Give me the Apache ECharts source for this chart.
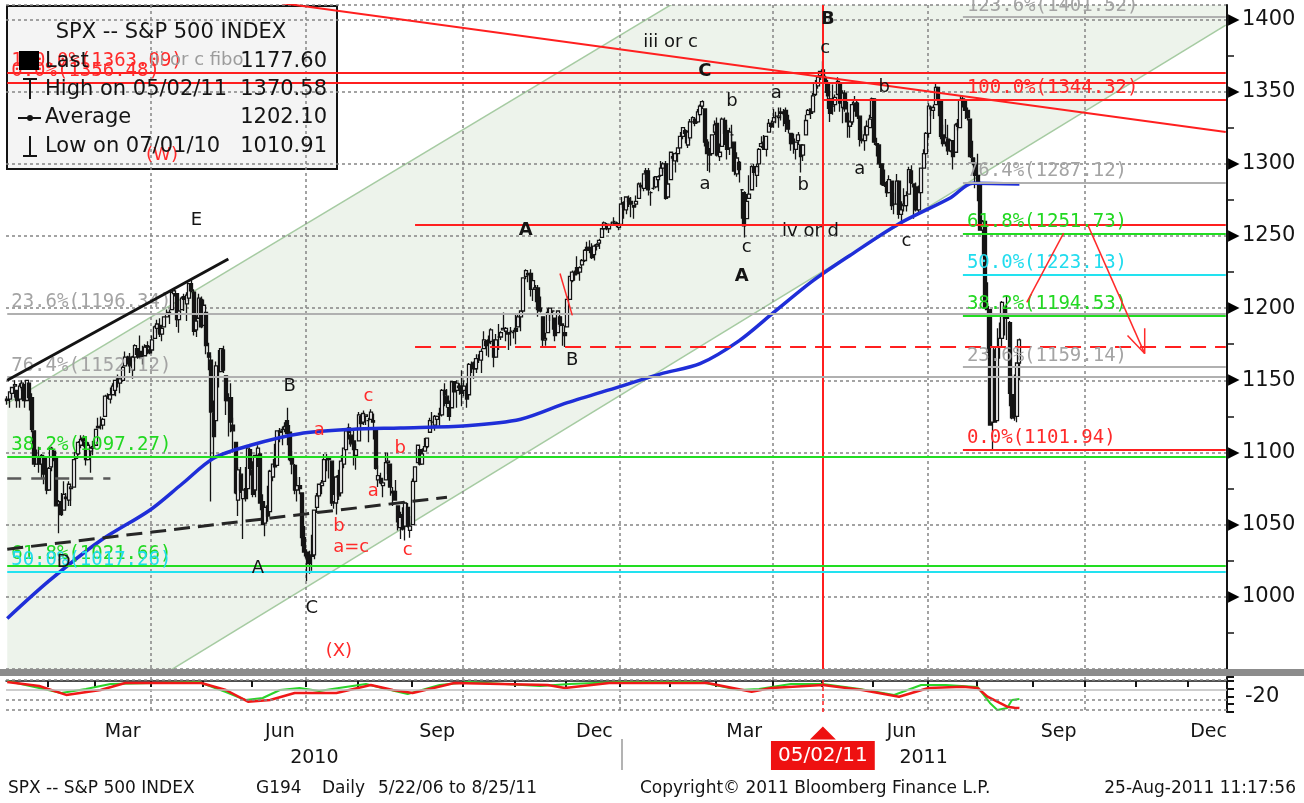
<!DOCTYPE html>
<html>
<head>
<meta charset="utf-8">
<title>SPX -- S&amp;P 500 INDEX</title>
<script src="https://cdn.jsdelivr.net/npm/echarts@6/dist/echarts.min.js"></script>
<style>
  html, body { margin: 0; padding: 0; background: #fff; }
  #chart { width: 1304px; height: 803px; }
</style>
</head>
<body>
<div id="chart"></div>
<script>
// daily bars, [open, close, low, high]
const jan10 = [[1136,1137,1133,1139],[1137,1142,1131,1142],[1141,1145,1137,1145],[1146,1147,1138,1150],[1143,1136,1131,1143],[1137,1146,1131,1148],[1145,1148,1143,1150],[1147,1136,1131,1147],[1136,1150,1136,1150],[1148,1138,1129,1148],[1138,1116,1114,1141],[1115,1092,1090,1115],[1092,1097,1092,1102],[1096,1092,1086,1104],[1092,1098,1082,1099],[1097,1085,1078,1098],[1086,1074,1071,1097]]
const feb10 = [[1074,1089,1074,1090],[1090,1103,1087,1104],[1101,1097,1094,1102],[1097,1063,1063,1097],[1064,1066,1044,1067],[1066,1057,1056,1072],[1060,1071,1060,1080],[1069,1068,1061,1072],[1067,1078,1063,1080],[1075,1076,1063,1077],[1076,1095,1076,1095],[1096,1100,1095,1100],[1099,1107,1098,1108],[1105,1109,1103,1112],[1110,1108,1104,1112],[1107,1095,1091,1109],[1095,1105,1095,1107],[1101,1103,1086,1104],[1103,1104,1098,1108]]
const mar10 = [[1105,1116,1105,1116],[1117,1118,1117,1124],[1119,1119,1116,1125],[1119,1123,1116,1124],[1125,1139,1125,1140],[1139,1139,1137,1141],[1137,1140,1134,1145],[1140,1146,1140,1148],[1143,1150,1139,1150],[1151,1150,1145,1154],[1148,1151,1141,1151],[1150,1159,1149,1160],[1160,1166,1160,1170],[1166,1166,1161,1167],[1166,1160,1155,1169],[1157,1166,1151,1167],[1166,1174,1163,1175],[1172,1168,1165,1172],[1170,1166,1165,1181],[1168,1167,1161,1174],[1167,1173,1167,1175],[1174,1173,1168,1177],[1171,1169,1168,1174]]
const apr10 = [[1171,1178,1170,1181],[1179,1187,1179,1188],[1186,1189,1183,1192],[1188,1182,1180,1193],[1182,1186,1177,1188],[1187,1194,1187,1194],[1194,1196,1194,1199],[1196,1197,1189,1199],[1199,1211,1199,1211],[1210,1212,1208,1213],[1210,1192,1187,1210],[1192,1198,1183,1198],[1199,1207,1199,1208],[1208,1206,1198,1210],[1203,1209,1191,1211],[1207,1217,1205,1217],[1217,1212,1211,1220],[1211,1184,1181,1213],[1185,1191,1180,1195],[1193,1207,1193,1210],[1206,1187,1186,1208]]
const may10 = [[1188,1202,1188,1206],[1197,1174,1168,1197],[1169,1166,1157,1176],[1164,1128,1066,1167],[1127,1111,1095,1136],[1122,1160,1122,1163],[1156,1156,1145,1171],[1156,1172,1156,1172],[1171,1157,1155,1174],[1153,1136,1126,1153],[1136,1137,1111,1141],[1138,1121,1114,1148],[1119,1115,1100,1124],[1107,1072,1071,1107],[1067,1088,1056,1090],[1085,1074,1072,1090],[1068,1074,1040,1075],[1075,1068,1066,1090],[1075,1103,1075,1103],[1102,1089,1084,1102]]
const jun10 = [[1088,1071,1069,1094],[1074,1098,1069,1098],[1098,1103,1090,1105],[1099,1065,1060,1099],[1066,1050,1050,1071],[1051,1062,1042,1063],[1063,1056,1052,1077],[1059,1087,1059,1088],[1083,1092,1080,1092],[1095,1090,1089,1106],[1091,1115,1091,1115],[1114,1115,1107,1117],[1116,1116,1105,1118],[1116,1118,1114,1121],[1122,1113,1105,1131],[1114,1095,1094,1119],[1096,1092,1085,1101],[1091,1074,1071,1092],[1074,1077,1066,1083],[1077,1075,1071,1083],[1072,1041,1035,1072],[1041,1031,1028,1049]]
const jul10 = [[1031,1027,1011,1033],[1028,1023,1016,1032],[1029,1028,1018,1043],[1029,1060,1026,1060],[1062,1070,1058,1072],[1070,1078,1068,1078],[1077,1079,1071,1081],[1080,1095,1080,1099],[1095,1095,1087,1099],[1095,1096,1082,1097],[1094,1065,1063,1094],[1066,1071,1061,1075],[1065,1083,1057,1084],[1084,1070,1067,1088],[1072,1094,1072,1098],[1092,1103,1089,1103],[1102,1115,1102,1115],[1117,1114,1109,1120],[1112,1106,1104,1114],[1108,1102,1091,1115],[1098,1102,1088,1106]]
const aug10 = [[1108,1126,1108,1128],[1125,1120,1116,1126],[1121,1127,1119,1129],[1125,1126,1119,1126],[1122,1122,1107,1124],[1123,1128,1123,1130],[1122,1121,1109,1127],[1116,1089,1088,1116],[1081,1084,1076,1091],[1082,1079,1078,1086],[1077,1079,1069,1082],[1081,1093,1081,1100],[1093,1094,1085,1100],[1092,1076,1070,1092],[1073,1072,1063,1076],[1073,1067,1067,1081],[1063,1052,1046,1063],[1048,1055,1040,1059],[1057,1047,1046,1062],[1049,1065,1039,1066],[1062,1049,1048,1065],[1046,1049,1041,1056]]
const sep10 = [[1050,1080,1050,1082],[1080,1090,1079,1090],[1093,1105,1093,1105],[1102,1092,1091,1102],[1092,1099,1092,1103],[1101,1104,1101,1110],[1104,1110,1103,1110],[1114,1122,1114,1124],[1121,1121,1116,1128],[1119,1125,1115,1126],[1123,1125,1118,1125],[1127,1126,1118,1131],[1126,1143,1125,1144],[1143,1140,1132,1148],[1139,1134,1131,1144],[1131,1125,1122,1136],[1131,1149,1131,1149],[1149,1142,1142,1149],[1143,1148,1131,1150],[1146,1145,1140,1148],[1146,1141,1132,1157]]
const oct10 = [[1143,1146,1139,1150],[1144,1137,1131,1148],[1140,1161,1140,1162],[1160,1160,1155,1163],[1162,1158,1151,1163],[1158,1165,1155,1168],[1165,1165,1162,1168],[1164,1170,1155,1172],[1172,1178,1172,1184],[1177,1174,1167,1178],[1178,1176,1166,1181],[1177,1185,1175,1186],[1178,1166,1159,1178],[1166,1178,1166,1182],[1180,1180,1171,1189],[1180,1183,1178,1184],[1185,1186,1185,1197],[1184,1186,1177,1187],[1183,1182,1171,1183],[1184,1184,1174,1187],[1183,1183,1179,1185]]
const nov10 = [[1186,1184,1175,1196],[1187,1194,1187,1196],[1194,1198,1184,1198],[1198,1221,1198,1221],[1222,1226,1220,1227],[1224,1223,1218,1224],[1224,1213,1208,1227],[1213,1219,1205,1219],[1213,1214,1204,1216],[1214,1199,1194,1216],[1200,1198,1197,1208],[1194,1178,1173,1194],[1178,1179,1174,1183],[1183,1197,1183,1200],[1196,1200,1191,1200],[1198,1198,1185,1198],[1193,1181,1177,1193],[1183,1198,1183,1198],[1194,1189,1187,1194],[1189,1188,1174,1189],[1183,1181,1173,1188]]
const dec10 = [[1187,1206,1187,1208],[1206,1222,1206,1222],[1219,1225,1218,1226],[1224,1223,1219,1226],[1228,1224,1223,1236],[1225,1228,1219,1229],[1230,1233,1227,1234],[1233,1240,1232,1241],[1242,1240,1240,1246],[1241,1242,1238,1247],[1241,1235,1234,1245],[1237,1243,1233,1244],[1243,1244,1240,1245],[1245,1247,1241,1248],[1249,1255,1249,1255],[1255,1259,1254,1260],[1258,1257,1254,1259],[1255,1258,1252,1258],[1259,1259,1257,1260],[1260,1260,1258,1263],[1259,1258,1256,1260],[1256,1258,1254,1259]]
const jan11 = [[1258,1272,1258,1277],[1273,1270,1262,1274],[1268,1277,1265,1277],[1276,1274,1270,1278],[1274,1272,1263,1277],[1271,1270,1262,1271],[1272,1274,1270,1278],[1276,1286,1276,1287],[1285,1284,1281,1287],[1283,1293,1281,1293],[1294,1295,1288,1297],[1295,1282,1278,1297],[1280,1280,1271,1281],[1283,1283,1282,1291],[1284,1291,1283,1291],[1289,1291,1281,1292],[1292,1297,1291,1302],[1297,1300,1294,1301],[1300,1276,1275,1302],[1277,1286,1277,1287]]
const feb11 = [[1289,1308,1289,1308],[1305,1304,1302,1308],[1302,1307,1294,1308],[1307,1311,1301,1311],[1311,1319,1311,1322],[1319,1325,1317,1325],[1323,1321,1314,1324],[1313,1322,1311,1323],[1318,1329,1316,1331],[1329,1332,1329,1333],[1331,1328,1326,1331],[1329,1336,1328,1338],[1334,1340,1333,1341],[1340,1343,1338,1344],[1338,1315,1312,1338],[1315,1307,1295,1317],[1307,1306,1294,1311],[1307,1320,1307,1320],[1322,1327,1320,1330]]
const mar11 = [[1328,1306,1305,1332],[1305,1308,1302,1314],[1312,1331,1312,1332],[1330,1321,1313,1332],[1323,1310,1303,1327],[1311,1322,1306,1325],[1320,1320,1311,1327],[1315,1295,1292,1315],[1293,1304,1291,1308],[1301,1296,1287,1302],[1282,1282,1262,1282],[1280,1257,1249,1281],[1262,1274,1262,1279],[1276,1279,1276,1292],[1282,1298,1282,1299],[1298,1294,1292,1300],[1292,1298,1284,1300],[1300,1310,1294,1311],[1312,1314,1311,1319],[1315,1310,1310,1320],[1310,1319,1305,1319],[1322,1328,1322,1331],[1328,1326,1325,1330]]
const apr11 = [[1329,1332,1325,1338],[1333,1333,1328,1336],[1332,1333,1325,1339],[1335,1336,1330,1339],[1334,1334,1326,1338],[1337,1328,1322,1339],[1330,1324,1321,1334],[1321,1314,1309,1321],[1317,1314,1307,1321],[1310,1315,1303,1315],[1316,1320,1313,1322],[1313,1305,1294,1313],[1306,1313,1302,1313],[1320,1330,1320,1334],[1334,1337,1334,1338],[1338,1335,1331,1338],[1336,1347,1336,1349],[1348,1356,1347,1358],[1354,1360,1352,1361],[1361,1364,1358,1364]]
const may11 = [[1365,1361,1358,1371],[1359,1357,1349,1361],[1356,1347,1338,1358],[1345,1335,1329,1349],[1340,1340,1334,1355],[1341,1346,1336,1348],[1348,1357,1348,1360],[1355,1342,1336,1356],[1339,1349,1328,1351],[1349,1338,1336,1351],[1335,1329,1318,1343],[1326,1329,1318,1330],[1329,1341,1327,1343],[1342,1344,1336,1347],[1342,1333,1331,1343],[1333,1317,1312,1333],[1317,1316,1314,1323],[1316,1320,1309,1326],[1320,1326,1317,1330],[1325,1331,1325,1334],[1332,1345,1332,1346]]
const jun11 = [[1345,1315,1313,1345],[1314,1313,1305,1318],[1313,1300,1297,1313],[1300,1286,1285,1300],[1287,1285,1284,1296],[1285,1280,1277,1288],[1280,1289,1280,1292],[1288,1271,1268,1288],[1272,1272,1265,1280],[1272,1288,1272,1293],[1288,1265,1262,1288],[1265,1268,1258,1274],[1271,1272,1267,1283],[1271,1278,1267,1281],[1279,1296,1279,1298],[1295,1287,1286,1299],[1286,1284,1262,1286],[1284,1268,1267,1287],[1268,1280,1266,1285],[1280,1297,1280,1297],[1297,1307,1297,1310],[1307,1321,1307,1322]]
const jul11 = [[1321,1340,1318,1342],[1339,1338,1333,1340],[1337,1339,1331,1341],[1341,1353,1341,1356],[1353,1344,1333,1353],[1343,1319,1317,1343],[1320,1314,1312,1327],[1315,1318,1312,1331],[1317,1309,1306,1327],[1309,1316,1308,1317],[1316,1305,1296,1316],[1308,1327,1308,1328],[1328,1326,1323,1331],[1325,1344,1325,1347],[1344,1345,1339,1347],[1344,1337,1331,1344],[1337,1332,1330,1339],[1331,1305,1304,1331],[1304,1301,1299,1316],[1300,1292,1283,1304]]
const aug11 = [[1292,1287,1274,1307],[1286,1254,1254,1288],[1254,1260,1237,1261],[1260,1200,1200,1260],[1201,1199,1169,1218],[1199,1119,1119,1199],[1121,1173,1102,1173],[1171,1121,1121,1171],[1122,1173,1122,1186],[1173,1179,1165,1190],[1179,1204,1179,1205],[1201,1193,1181,1201],[1193,1194,1178,1209],[1190,1141,1132,1191],[1140,1124,1123,1154],[1124,1124,1122,1154],[1125,1162,1121,1162],[1162,1178,1150,1179]]

// moving average (blue), read at points along the curve
const maLine = [['2010-01-06',985],['2010-02-01',1011],['2010-03-03',1039],['2010-03-31',1060],['2010-04-20',1078],['2010-05-07',1096],['2010-05-28',1105],['2010-06-28',1113],['2010-07-28',1116],['2010-08-25',1117],['2010-10-04',1118.5],['2010-11-03',1123],['2010-12-01',1134.5],['2010-12-31',1145.5],['2011-01-26',1154.5],['2011-02-17',1161.5],['2011-03-14',1177.5],['2011-04-01',1197],['2011-04-26',1219],['2011-05-17',1236.5],['2011-06-15',1258.5],['2011-07-15',1276.5],['2011-07-28',1286.5],['2011-08-24',1286]]

// lower panel oscillator
const oscRed = [['2010-01-06',-1.4],['2010-01-26',-6.6],['2010-02-10',-18],['2010-03-03',-11.7],['2010-03-17',-2.7],['2010-04-30',-2.7],['2010-05-14',-11.7],['2010-05-27',-26.7],['2010-06-10',-24.6],['2010-06-24',-15.6],['2010-07-20',-15.6],['2010-08-09',-5.3],['2010-08-20',-11.7],['2010-09-01',-15.6],['2010-09-27',-2.7],['2010-11-18',-5.3],['2010-11-30',-9.1],['2010-12-27',-2.7],['2011-02-23',-2.7],['2011-03-21',-13.9],['2011-03-31',-9.1],['2011-05-02',-5.3],['2011-05-24',-11.7],['2011-06-15',-20.3],['2011-07-01',-9.1],['2011-07-22',-7.5],['2011-08-01',-9.1],['2011-08-05',-20.3],['2011-08-12',-28.4],['2011-08-17',-33.2],['2011-08-22',-34.5],['2011-08-24',-34.8]]
const oscGreen = [['2010-01-06',-0.1],['2010-01-26',-9.1],['2010-02-08',-15.6],['2010-02-23',-10.4],['2010-03-09',-4],['2010-04-29',-1.4],['2010-05-14',-14.3],['2010-05-26',-24.6],['2010-06-07',-22],['2010-06-16',-11.7],['2010-06-28',-9.1],['2010-07-09',-13],['2010-07-21',-9.1],['2010-08-05',-4],['2010-08-19',-11.7],['2010-08-30',-16.9],['2010-09-17',-5.3],['2010-10-05',-1.4],['2010-11-15',-6.6],['2010-12-02',-4],['2010-12-31',-1.4],['2011-02-17',-1.4],['2011-03-14',-11.7],['2011-03-24',-10.4],['2011-04-12',-4],['2011-05-02',-4],['2011-05-23',-10.4],['2011-06-13',-18.1],['2011-06-28',-5.3],['2011-07-13',-5.3],['2011-08-01',-7.9],['2011-08-08',-28.4],['2011-08-11',-37.4],['2011-08-17',-34.8],['2011-08-19',-24.6],['2011-08-24',-23.3]]

// drawn lines: [date, price]
const channelLow = [['2010-01-06',880],['2011-12-22',1396]]
const channelHigh = [['2010-01-06',1134],['2011-12-22',1641]]
const trendRed = [['2010-06-01',1414],['2011-12-22',1322]]
const trendE = [['2010-01-06',1150],['2010-05-17',1234]]
const trendBase = [['2010-01-06',1033],['2010-09-22',1069]]
const trendFlat = [['2010-01-06',1082],['2010-03-09',1082]]
const arrowUp = [['2011-08-29',1204],['2011-09-20',1252]]
const arrowDown = [['2011-10-04',1257],['2011-11-04',1168.5]]
const arrowHead = [['2011-10-26',1181],['2011-11-04',1168.5],['2011-11-04',1186]]
const redStroke = [['2010-11-26',1224],['2010-12-03',1195]]

// horizontal levels: [label, value, colour]
const levelsFull = [['100.0%(1363.09)',1363.09,'red'],['0.0%(1356.48)',1356.48,'red'],['23.6%(1196.34)',1196.34,'gray'],['76.4%(1152.12)',1152.12,'gray'],['38.2%(1097.27)',1097.27,'green'],['61.8%(1021.66)',1021.66,'green'],['50.0%(1017.26)',1017.26,'cyan']]
const fibStart = '2011-07-22'
const levelsRight = [['123.6%(1401.52)',1401.52,'gray'],['100.0%(1344.32)',1344.32,'red'],['76.4%(1287.12)',1287.12,'gray'],['61.8%(1251.73)',1251.73,'green'],['50.0%(1223.13)',1223.13,'cyan'],['38.2%(1194.53)',1194.53,'green'],['23.6%(1159.14)',1159.14,'gray'],['0.0%(1101.94)',1101.94,'red']]
const levelsOther = [['2011-05-02',1344.32,'red',false],['2010-09-02',1257.8,'red',false],['2010-09-02',1172.9,'red',true]]

// wave labels: [text, date, price, bold]
const waveBlack = [['E','2010-04-28',1261],['B','2010-06-22',1146],['A','2010-06-03',1020],['D','2010-02-09',1024],['C','2010-07-06',992],['A','2010-11-05',1254,1],['B','2010-12-03',1164],['iii or c','2011-02-01',1384],['C','2011-02-22',1364,1],['b','2011-03-09',1343],['a','2011-02-22',1286],['c','2011-03-17',1242],['A','2011-03-15',1222,1],['a','2011-04-04',1349],['b','2011-04-19',1285],['iv or d','2011-04-25',1253],['B','2011-05-04',1400,1],['c','2011-05-03',1380],['b','2011-06-07',1353],['a','2011-05-23',1296],['c','2011-06-20',1246]]
const waveRed = [['(W)','2010-04-08',1306],['(X)','2010-07-21',962],['a','2010-07-09',1115],['c','2010-08-06',1139],['b','2010-08-25',1103],['a','2010-08-10',1073],['b','2010-07-21',1049],['a=c','2010-07-28',1034],['c','2010-08-30',1032]]
const noteGray = [['iii or c fibo','2010-04-28',1372]]

const monthNames = ['Jan','Feb','Mar','Apr','May','Jun','Jul','Aug','Sep','Oct','Nov','Dec']
const holidays = ['2010-01-18','2010-02-15','2010-04-02','2010-05-31','2010-07-05','2010-09-06','2010-11-25','2010-12-24','2011-01-17','2011-02-21','2011-04-22','2011-05-30','2011-07-04','2011-09-05','2011-11-24']

// trading days shown on the axis
const dates = []
for (let t = Date.UTC(2010, 0, 6); t <= Date.UTC(2011, 11, 22); t += 86400000) {
  const d = new Date(t)
  const s = d.toISOString().slice(0, 10)
  if (d.getUTCDay() === 0 || d.getUTCDay() === 6 || holidays.includes(s)) continue
  dates.push(s)
}
const X = d => { const i = dates.findIndex(s => s >= d); return i < 0 ? dates.length - 1 : i }

const bars = [].concat(jan10, feb10, mar10, apr10, may10, jun10, jul10, aug10, sep10, oct10, nov10, dec10,
  jan11, feb11, mar11, apr11, may11, jun11, jul11, aug11)

// month / quarter / year positions on the category axis
const monthStart = new Set(), quarterStart = new Set(), monthMid = new Map(), yearMid = new Map()
const groups = {}, years = {}
dates.forEach((d, i) => {
  (groups[d.slice(0, 7)] = groups[d.slice(0, 7)] || []).push(i);
  (years[d.slice(0, 4)] = years[d.slice(0, 4)] || []).push(i)
})
Object.keys(groups).forEach(k => {
  const arr = groups[k], m = +k.slice(5, 7)
  if (arr[0] > 0) {
    monthStart.add(arr[0])
    if ([1, 4, 7, 10].includes(m)) quarterStart.add(arr[0])
  }
  if ([3, 6, 9, 12].includes(m)) monthMid.set(arr[Math.floor(arr.length / 2)], monthNames[m - 1])
})
Object.keys(years).forEach(y => yearMid.set(years[y][Math.floor(years[y].length / 2)], y))
const yearBreak = years['2011'][0]
const markDay = X('2011-05-02')

const COL = { red: '#ff1f1f', green: '#22dd22', cyan: '#22e2f0', gray: '#b0b0b0' }
const TXT = { red: '#ff2a2a', green: '#22d822', cyan: '#22dcee', gray: '#a4a4a4' }
const SANS = '"DejaVu Sans", Verdana, sans-serif'
const MONO = '"DejaVu Sans Mono", monospace'
const INK = '#141414'
const pts = arr => arr.map(p => [X(p[0]), p[1]])

function levelLine(x0, x1, v, c, text, dashed) {
  return [
    {
      coord: [x0, v],
      lineStyle: { color: COL[c], width: 2, type: dashed ? [16, 9] : 'solid' },
      label: text ? { show: true, formatter: text, position: 'insideStartTop', distance: [4, 2],
        color: TXT[c], fontFamily: MONO, fontSize: 19 } : { show: false }
    },
    { coord: [x1, v] }
  ]
}
const last = dates.length - 1
const levelData = []
levelsFull.forEach(l => levelData.push(levelLine(0, last, l[1], l[2], l[0])))
levelsRight.forEach(l => levelData.push(levelLine(X(fibStart), last, l[1], l[2], l[0])))
levelsOther.forEach(l => levelData.push(levelLine(X(l[0]), last, l[1], l[2], null, l[3])))

const dotted = { color: '#858585', type: [3, 3], width: 1.5 }

function plainLine(data, color, width, type, z) {
  return { type: 'line', xAxisIndex: 0, yAxisIndex: 0, data: pts(data), symbol: 'none', silent: true,
    lineStyle: { color: color, width: width, type: type || 'solid' }, z: z || 5, animation: false }
}
function labels(list, color) {
  return { type: 'scatter', xAxisIndex: 0, yAxisIndex: 0, symbolSize: 1, silent: true, z: 10,
    itemStyle: { color: 'rgba(0,0,0,0)' },
    data: list.map(w => ({ name: w[0], value: [X(w[1]), w[2]], label: { fontWeight: w[3] ? 'bold' : 'normal' } })),
    label: { show: true, position: 'inside', formatter: '{b}', color: color, opacity: 1, fontSize: 18, fontFamily: SANS } }
}

const chart = echarts.init(document.getElementById('chart'))
const option = {
  animation: false,
  backgroundColor: '#fff',
  grid: [
    { left: 6, right: 77, top: 5, height: 664, outerBoundsMode: 'none' },
    { left: 6, right: 77, top: 677, height: 35, outerBoundsMode: 'none' }
  ],
  xAxis: [
    { type: 'category', data: dates, gridIndex: 0, axisLine: { show: false }, axisTick: { show: false },
      axisLabel: { show: false },
      splitLine: { show: true, interval: i => quarterStart.has(i), lineStyle: dotted } },
    { type: 'category', data: dates, gridIndex: 1,
      axisLine: { show: true, lineStyle: { color: INK, width: 1.5 } },
      axisTick: { show: true, interval: i => monthStart.has(i), length: 6, lineStyle: { color: INK, width: 2 } },
      axisLabel: { show: true, interval: i => monthMid.has(i), formatter: (v, i) => monthMid.get(i) || '',
        color: INK, fontSize: 19, fontFamily: SANS, margin: 11 },
      splitLine: { show: true, interval: i => quarterStart.has(i), lineStyle: dotted } },
    { type: 'category', data: dates, gridIndex: 1, position: 'bottom', offset: 27,
      axisLine: { show: false },
      axisTick: { show: true, alignWithLabel: true, interval: i => i === yearBreak, length: 31,
        lineStyle: { color: '#9a9a9a', width: 1.5 } },
      axisLabel: { show: true, interval: i => yearMid.has(i), formatter: (v, i) => yearMid.get(i) || '',
        color: INK, fontSize: 19, fontFamily: SANS, margin: 10 },
      splitLine: { show: false } },
    { type: 'category', data: dates, gridIndex: 1, position: 'bottom',
      axisLine: { show: false }, axisTick: { show: false }, splitLine: { show: false },
      axisLabel: { show: true, interval: i => i === markDay, formatter: () => '05/02/11', margin: 29,
        color: '#fff', backgroundColor: '#ee1111', padding: [5, 7, 4, 7], fontSize: 20, fontFamily: SANS } }
  ],
  yAxis: [
    { type: 'value', gridIndex: 0, position: 'right', min: 950, max: 1410, interval: 50, scale: true,
      axisLine: { show: true, lineStyle: { color: INK, width: 2 } },
      axisTick: { show: false },
      minorTick: { show: true, splitNumber: 2, length: 7, lineStyle: { color: INK, width: 1.5 } },
      minorSplitLine: { show: false },
      axisLabel: { margin: 1, formatter: v => (v % 50 === 0 && v >= 1000 && v <= 1400) ? '{a|▶}{v|' + v + '}' : '',
        rich: { a: { fontSize: 15, color: '#000' }, v: { fontSize: 21, color: INK, fontFamily: SANS, padding: [0, 0, 0, 2] } } },
      splitLine: { show: true, lineStyle: dotted } },
    { type: 'value', gridIndex: 1, position: 'right', min: -40, max: 5, interval: 10,
      axisLine: { show: true, lineStyle: { color: INK, width: 2 } },
      axisTick: { show: true, length: 7, lineStyle: { color: INK, width: 2 } },
      axisLabel: { margin: 18, formatter: v => v === -20 ? '-20' : '', color: INK, fontSize: 21, fontFamily: SANS },
      splitLine: { show: false } }
  ],
  series: [
    { // rising channel fill
      type: 'custom', xAxisIndex: 0, yAxisIndex: 0, z: -5, clip: true, silent: true, data: [0],
      renderItem: (params, api) => {
        const a = api.coord([X(channelLow[0][0]), channelLow[0][1]])
        const b = api.coord([X(channelLow[1][0]), channelLow[1][1]])
        const c = api.coord([X(channelHigh[1][0]), channelHigh[1][1]])
        const d = api.coord([X(channelHigh[0][0]), channelHigh[0][1]])
        const edge = { stroke: '#a6cba2', lineWidth: 1.5 }
        return { type: 'group', children: [
          { type: 'polygon', shape: { points: [a, b, c, d] }, style: { fill: '#edf3eb' } },
          { type: 'line', shape: { x1: a[0], y1: a[1], x2: b[0], y2: b[1] }, style: edge },
          { type: 'line', shape: { x1: d[0], y1: d[1], x2: c[0], y2: c[1] }, style: edge }
        ] }
      }
    },
    {
      type: 'candlestick', xAxisIndex: 0, yAxisIndex: 0, data: bars, barWidth: 3.5, z: 3,
      itemStyle: { color: '#fff', color0: INK, borderColor: INK, borderColor0: INK, borderWidth: 1.3 },
      markLine: { silent: true, symbol: ['none', 'none'], label: { show: false },
        lineStyle: { color: '#ff1f1f', width: 2, type: 'solid' }, data: [{ xAxis: markDay }] }
    },
    {
      type: 'line', xAxisIndex: 0, yAxisIndex: 0, data: pts(maLine), symbol: 'none', smooth: 0.3, z: 4,
      lineStyle: { color: '#1f2ed8', width: 3.5 },
      markLine: { silent: true, symbol: ['none', 'none'], data: levelData }
    },
    plainLine(trendRed, '#ff1f1f', 2),
    plainLine(trendE, INK, 3),
    plainLine(trendBase, '#262626', 3, [16, 8]),
    plainLine(trendFlat, '#5a5a5a', 2.5, [14, 10]),
    plainLine(arrowUp, '#ff2a2a', 1.5),
    plainLine(arrowDown, '#ff2a2a', 1.5),
    plainLine(arrowHead, '#ff2a2a', 1.5),
    plainLine(redStroke, '#ff2a2a', 1.5),
    labels(waveBlack, INK),
    labels(waveRed, '#ff2a2a'),
    labels(noteGray, '#9c9c9c'),
    {
      type: 'line', xAxisIndex: 1, yAxisIndex: 1, data: pts(oscGreen), symbol: 'none', z: 3,
      lineStyle: { color: '#2bd42b', width: 2 }
    },
    {
      type: 'line', xAxisIndex: 1, yAxisIndex: 1, data: pts(oscRed), symbol: 'none', z: 4,
      lineStyle: { color: '#f01818', width: 2.5 },
      markLine: { silent: true, symbol: ['none', 'none'], label: { show: false }, data: [
        { yAxis: 2, lineStyle: dotted }, { yAxis: -10.8, lineStyle: { color: '#bdbdbd', width: 1.5, type: 'solid' } },
        { yAxis: -24.6, lineStyle: dotted }, { yAxis: -36.5, lineStyle: dotted },
        { xAxis: markDay, lineStyle: { color: '#ff1f1f', width: 1.5, type: [4, 3] } }
      ] },
      markPoint: { silent: true, label: { show: false }, data: [
        { coord: [markDay, -40], symbol: 'triangle', symbolSize: [26, 13], symbolOffset: [0, 21], itemStyle: { color: '#ee1111' } }
      ] }
    }
  ],
  graphic: [
    { type: 'rect', z: -10, shape: { x: 7, y: 6, width: 330, height: 163 }, style: { fill: '#f4f4f4', stroke: INK, lineWidth: 2 } },
    { type: 'text', z: 100, x: 171, y: 33, style: { text: 'SPX -- S&P 500 INDEX', fontSize: 21, fontFamily: SANS, fill: INK, align: 'center', verticalAlign: 'middle' } },
    { type: 'rect', z: 100, shape: { x: 19, y: 51, width: 20, height: 19 }, style: { fill: '#000' } },
    { type: 'text', z: 100, x: 45, y: 62, style: { text: 'Last', fontSize: 21, fontFamily: SANS, fill: INK, verticalAlign: 'middle' } },
    { type: 'text', z: 100, x: 327, y: 62, style: { text: '1177.60', fontSize: 21, fontFamily: SANS, fill: INK, align: 'right', verticalAlign: 'middle' } },
    { type: 'polyline', z: 100, shape: { points: [[23, 79], [37, 79]] }, style: { stroke: INK, lineWidth: 2 } },
    { type: 'polyline', z: 100, shape: { points: [[30, 79], [30, 99]] }, style: { stroke: INK, lineWidth: 2 } },
    { type: 'text', z: 100, x: 45, y: 90, style: { text: 'High on 05/02/11', fontSize: 21, fontFamily: SANS, fill: INK, verticalAlign: 'middle' } },
    { type: 'text', z: 100, x: 327, y: 90, style: { text: '1370.58', fontSize: 21, fontFamily: SANS, fill: INK, align: 'right', verticalAlign: 'middle' } },
    { type: 'polyline', z: 100, shape: { points: [[18, 118], [41, 118]] }, style: { stroke: INK, lineWidth: 2 } },
    { type: 'circle', z: 100, shape: { cx: 30, cy: 118, r: 3 }, style: { fill: INK } },
    { type: 'text', z: 100, x: 45, y: 118, style: { text: 'Average', fontSize: 21, fontFamily: SANS, fill: INK, verticalAlign: 'middle' } },
    { type: 'text', z: 100, x: 327, y: 118, style: { text: '1202.10', fontSize: 21, fontFamily: SANS, fill: INK, align: 'right', verticalAlign: 'middle' } },
    { type: 'polyline', z: 100, shape: { points: [[30, 136], [30, 156]] }, style: { stroke: INK, lineWidth: 2 } },
    { type: 'polyline', z: 100, shape: { points: [[23, 156], [37, 156]] }, style: { stroke: INK, lineWidth: 2 } },
    { type: 'text', z: 100, x: 45, y: 147, style: { text: 'Low on 07/01/10', fontSize: 21, fontFamily: SANS, fill: INK, verticalAlign: 'middle' } },
    { type: 'text', z: 100, x: 327, y: 147, style: { text: '1010.91', fontSize: 21, fontFamily: SANS, fill: INK, align: 'right', verticalAlign: 'middle' } },
    { type: 'rect', z: 50, shape: { x: 0, y: 669, width: 1304, height: 7 }, style: { fill: '#8c8c8c' } },
    { type: 'text', z: 100, x: 8, y: 789, style: { text: 'SPX -- S&P 500 INDEX', fontSize: 17, fontFamily: SANS, fill: INK, verticalAlign: 'middle' } },
    { type: 'text', z: 100, x: 256, y: 789, style: { text: 'G194', fontSize: 17, fontFamily: SANS, fill: INK, verticalAlign: 'middle' } },
    { type: 'text', z: 100, x: 322, y: 789, style: { text: 'Daily', fontSize: 17, fontFamily: SANS, fill: INK, verticalAlign: 'middle' } },
    { type: 'text', z: 100, x: 378, y: 789, style: { text: '5/22/06 to 8/25/11', fontSize: 17, fontFamily: SANS, fill: INK, verticalAlign: 'middle' } },
    { type: 'text', z: 100, x: 640, y: 789, style: { text: 'Copyright© 2011 Bloomberg Finance L.P.', fontSize: 17, fontFamily: SANS, fill: INK, verticalAlign: 'middle' } },
    { type: 'text', z: 100, x: 1296, y: 789, style: { text: '25-Aug-2011 11:17:56', fontSize: 17, fontFamily: SANS, fill: INK, align: 'right', verticalAlign: 'middle' } }
  ]
}
chart.setOption(option)
</script>
</body>
</html>
